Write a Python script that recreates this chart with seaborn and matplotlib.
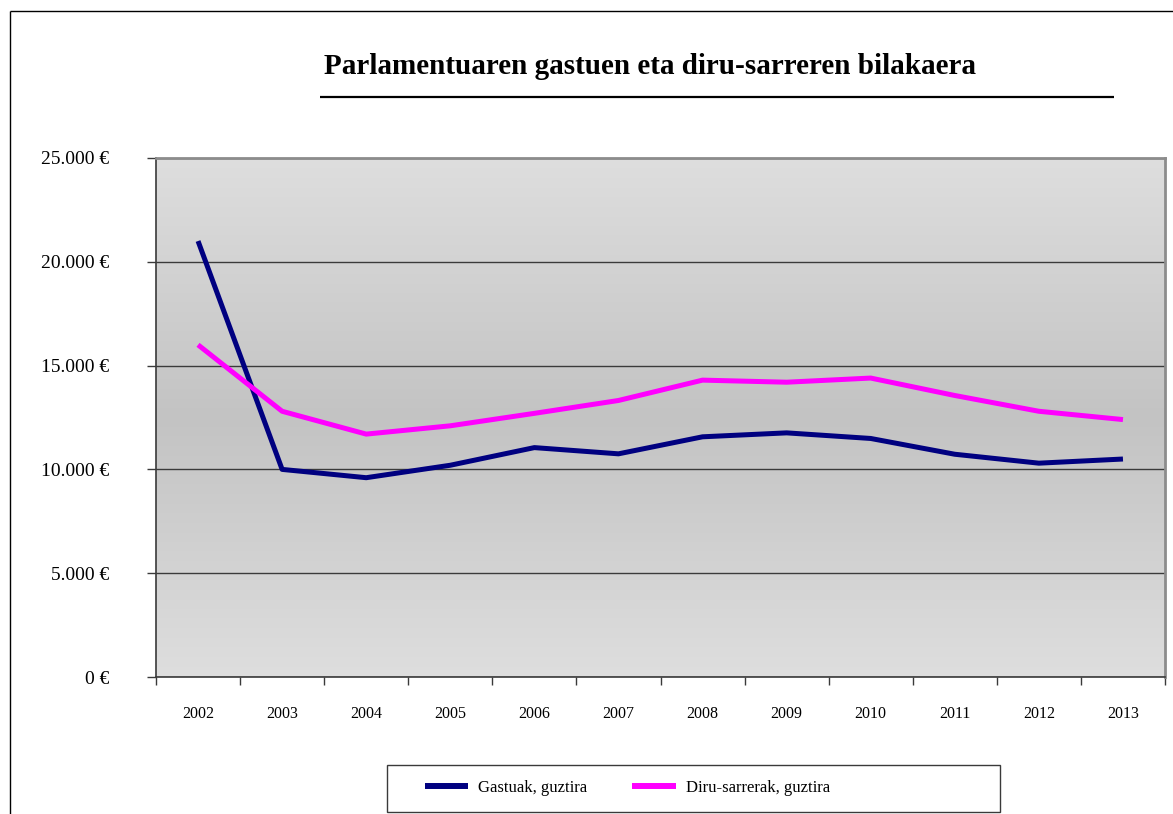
import numpy as np
import pandas as pd
import matplotlib
matplotlib.use("Agg")
import matplotlib.pyplot as plt
import matplotlib.ticker as mticker
from matplotlib.colors import LinearSegmentedColormap
from matplotlib.lines import Line2D
from matplotlib.patches import Rectangle
import seaborn as sns

# Data
years = ["2002", "2003", "2004", "2005", "2006", "2007",
         "2008", "2009", "2010", "2011", "2012", "2013"]
gastuak = [21000, 10000, 9600, 10200, 11050, 10750,
           11570, 11760, 11490, 10730, 10300, 10500]
diru_sarrerak = [16000, 12800, 11700, 12100, 12700, 13320,
                 14300, 14200, 14400, 13560, 12800, 12400]
y_ticks = [0, 5000, 10000, 15000, 20000, 25000]
series_names = ["Gastuak, guztira", "Diru-sarrerak, guztira"]
series_colors = ["#000080", "#ff00ff"]
title = "Parlamentuaren gastuen eta diru-sarreren bilakaera"

sns.set_style("white")
plt.rcParams["font.family"] = ["Liberation Serif", "DejaVu Serif"]
plt.rcParams["text.color"] = "black"
plt.rcParams["xtick.labelcolor"] = "black"
plt.rcParams["ytick.labelcolor"] = "black"
plt.rcParams["lines.solid_capstyle"] = "butt"

n = len(years)
df = pd.DataFrame({
    "pos": list(range(n)) * 2,
    "value": gastuak + diru_sarrerak,
    "series": [series_names[0]] * n + [series_names[1]] * n,
})

W, H = 1173, 814
fig = plt.figure(figsize=(W / 100, H / 100), dpi=100)
ax = fig.add_axes([156 / W, 1 - 677 / H, (1165 - 156) / W, (677 - 158) / H])

# gradient plot background (light at top and bottom, darker in the middle)
grad = np.abs(np.linspace(-1, 1, 256))[:, None]
bg_cmap = LinearSegmentedColormap.from_list("bg", ["#c3c3c3", "#dedede"])
ax.imshow(grad, extent=[0, 1, 0, 1], transform=ax.transAxes,
          cmap=bg_cmap, vmin=0, vmax=1, aspect="auto", zorder=0)

sns.lineplot(
    data=df,
    x="pos",
    y="value",
    hue="series",
    hue_order=series_names,
    palette=series_colors,
    linewidth=3.6,
    legend=False,
    ax=ax,
    zorder=3
)

ax.set_xlim(-0.5, n - 0.5)
ax.set_ylim(y_ticks[0], y_ticks[-1])
ax.set_xlabel("")
ax.set_ylabel("")

# gridlines
ax.set_yticks(y_ticks)
ax.yaxis.grid(True, color="#3a3a3a", linewidth=1)
ax.xaxis.grid(False)
ax.set_axisbelow("line")

ax.yaxis.set_major_formatter(
    mticker.FuncFormatter(lambda v, p: f"{int(v):,}".replace(",", ".") + " €")
)

# x: tick marks between categories, labels at category centres
ax.set_xticks(np.arange(-0.5, n, 1))
ax.set_xticks(range(n), minor=True)
ax.set_xticklabels(years, minor=True)
ax.tick_params(axis="x", which="major", bottom=True, direction="out",
               length=6, width=1, color="#3a3a3a", labelbottom=False)
ax.tick_params(axis="x", which="minor", bottom=True, length=0, pad=21,
               labelsize=11.5)
ax.tick_params(axis="y", left=True, direction="out", length=6.5, width=1,
               color="#3a3a3a", pad=27, labelsize=14)

for side in ["left", "bottom"]:
    ax.spines[side].set_color("#3a3a3a")
    ax.spines[side].set_linewidth(1.2)
for side in ["top", "right"]:
    ax.spines[side].set_color("#8c8c8c")
    ax.spines[side].set_linewidth(2)

# title with underline
fig.text(650 / W, 1 - 66 / H, title, ha="center", va="center",
         fontsize=21, fontweight="bold")
fig.add_artist(Line2D([320 / W, 1114 / W], [1 - 97 / H] * 2,
                      color="black", linewidth=1.6))

# outer chart frame
fig.add_artist(Line2D([10 / W, 1], [1 - 11 / H] * 2, color="black", linewidth=1))
fig.add_artist(Line2D([10 / W] * 2, [0, 1 - 11 / H], color="black", linewidth=1))

# legend box
fig.add_artist(Rectangle((387 / W, 2 / H), 613 / W, 47 / H,
                         transform=fig.transFigure, facecolor="white",
                         edgecolor="#3a3a3a", linewidth=1))
handles = [Line2D([], [], color=c, linewidth=4.3) for c in series_colors]
fig.legend(
    handles,
    series_names,
    loc="center left",
    bbox_to_anchor=(425 / W, 1 - 788 / H),
    ncol=2,
    frameon=False,
    handlelength=2.6,
    handletextpad=0.6,
    columnspacing=2.7,
    borderpad=0,
    borderaxespad=0,
    fontsize=12
)

fig.savefig("out.png", dpi=100)
plt.close(fig)
